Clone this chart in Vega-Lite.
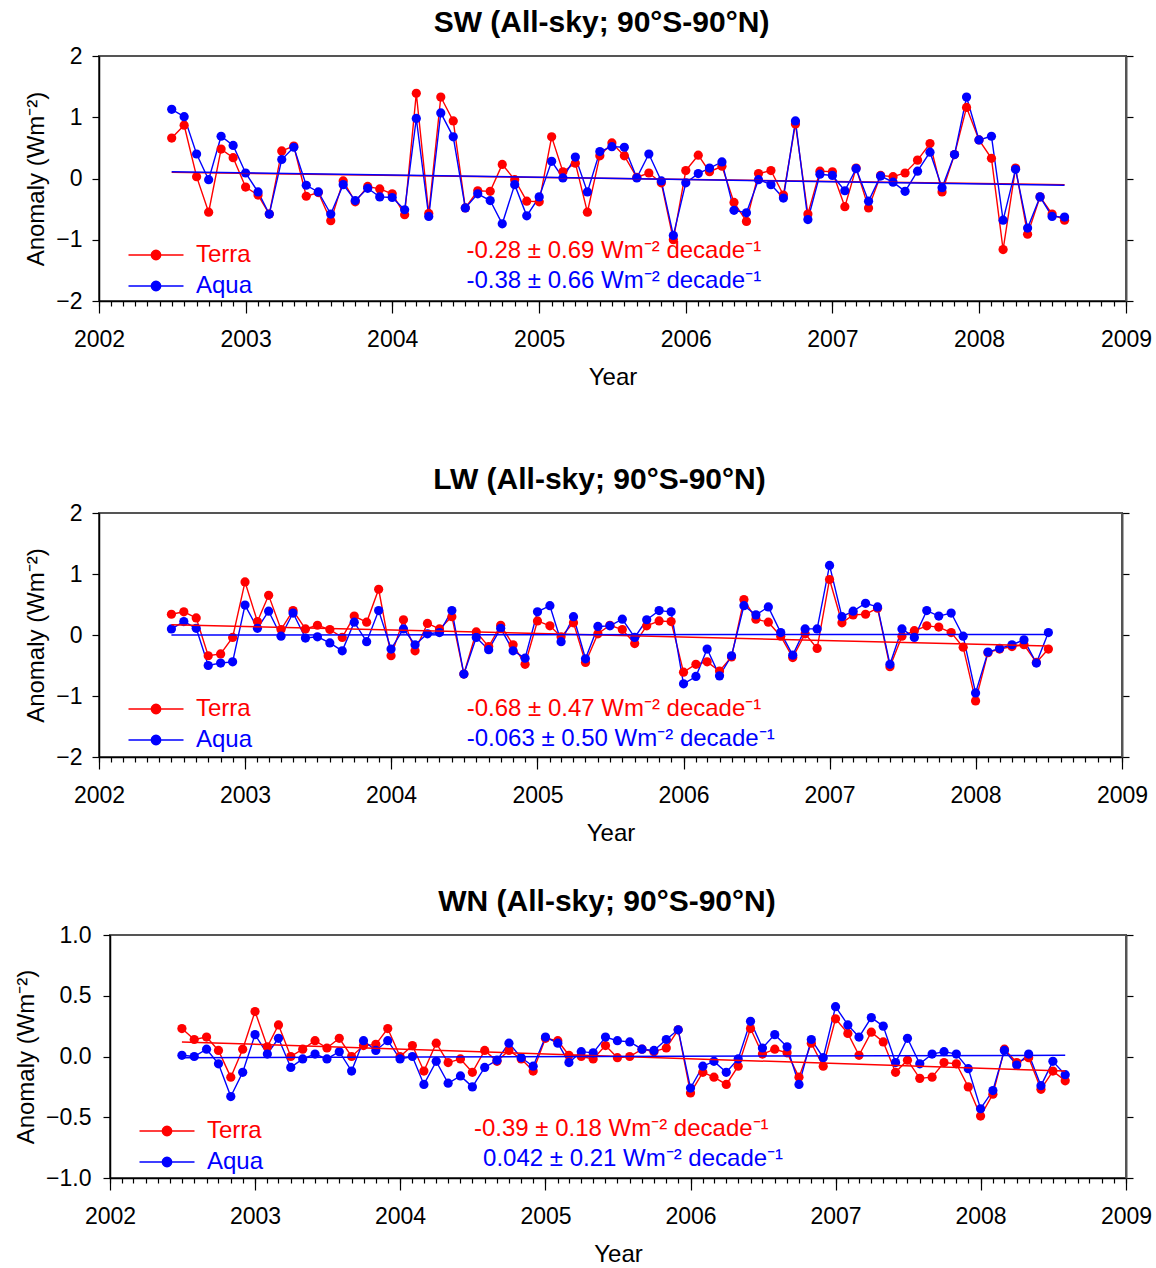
{
  "$schema": "https://vega.github.io/schema/vega-lite/v6.json",
  "padding": {"left": 13, "top": 7, "right": 0, "bottom": 0},
  "datasets": {
    "sw": [
      {"m":"2002-07-01","s":"Terra","v":0.66},{"m":"2002-08-01","s":"Terra","v":0.87},{"m":"2002-09-01","s":"Terra","v":0.03},{"m":"2002-10-01","s":"Terra","v":-0.55},{"m":"2002-11-01","s":"Terra","v":0.48},{"m":"2002-12-01","s":"Terra","v":0.34},
      {"m":"2003-01-01","s":"Terra","v":-0.14},{"m":"2003-02-01","s":"Terra","v":-0.27},{"m":"2003-03-01","s":"Terra","v":-0.58},{"m":"2003-04-01","s":"Terra","v":0.45},{"m":"2003-05-01","s":"Terra","v":0.53},{"m":"2003-06-01","s":"Terra","v":-0.29},{"m":"2003-07-01","s":"Terra","v":-0.23},{"m":"2003-08-01","s":"Terra","v":-0.69},{"m":"2003-09-01","s":"Terra","v":-0.04},{"m":"2003-10-01","s":"Terra","v":-0.38},{"m":"2003-11-01","s":"Terra","v":-0.13},{"m":"2003-12-01","s":"Terra","v":-0.17},
      {"m":"2004-01-01","s":"Terra","v":-0.25},{"m":"2004-02-01","s":"Terra","v":-0.59},{"m":"2004-03-01","s":"Terra","v":1.39},{"m":"2004-04-01","s":"Terra","v":-0.57},{"m":"2004-05-01","s":"Terra","v":1.33},{"m":"2004-06-01","s":"Terra","v":0.94},{"m":"2004-07-01","s":"Terra","v":-0.48},{"m":"2004-08-01","s":"Terra","v":-0.20},{"m":"2004-09-01","s":"Terra","v":-0.21},{"m":"2004-10-01","s":"Terra","v":0.23},{"m":"2004-11-01","s":"Terra","v":-0.02},{"m":"2004-12-01","s":"Terra","v":-0.37},
      {"m":"2005-01-01","s":"Terra","v":-0.38},{"m":"2005-02-01","s":"Terra","v":0.68},{"m":"2005-03-01","s":"Terra","v":0.11},{"m":"2005-04-01","s":"Terra","v":0.25},{"m":"2005-05-01","s":"Terra","v":-0.55},{"m":"2005-06-01","s":"Terra","v":0.37},{"m":"2005-07-01","s":"Terra","v":0.58},{"m":"2005-08-01","s":"Terra","v":0.37},{"m":"2005-09-01","s":"Terra","v":0.02},{"m":"2005-10-01","s":"Terra","v":0.09},{"m":"2005-11-01","s":"Terra","v":-0.07},{"m":"2005-12-01","s":"Terra","v":-1.00},
      {"m":"2006-01-01","s":"Terra","v":0.13},{"m":"2006-02-01","s":"Terra","v":0.38},{"m":"2006-03-01","s":"Terra","v":0.11},{"m":"2006-04-01","s":"Terra","v":0.20},{"m":"2006-05-01","s":"Terra","v":-0.39},{"m":"2006-06-01","s":"Terra","v":-0.70},{"m":"2006-07-01","s":"Terra","v":0.08},{"m":"2006-08-01","s":"Terra","v":0.13},{"m":"2006-09-01","s":"Terra","v":-0.27},{"m":"2006-10-01","s":"Terra","v":0.89},{"m":"2006-11-01","s":"Terra","v":-0.58},{"m":"2006-12-01","s":"Terra","v":0.12},
      {"m":"2007-01-01","s":"Terra","v":0.11},{"m":"2007-02-01","s":"Terra","v":-0.46},{"m":"2007-03-01","s":"Terra","v":0.17},{"m":"2007-04-01","s":"Terra","v":-0.48},{"m":"2007-05-01","s":"Terra","v":0.05},{"m":"2007-06-01","s":"Terra","v":0.03},{"m":"2007-07-01","s":"Terra","v":0.09},{"m":"2007-08-01","s":"Terra","v":0.30},{"m":"2007-09-01","s":"Terra","v":0.57},{"m":"2007-10-01","s":"Terra","v":-0.22},{"m":"2007-11-01","s":"Terra","v":0.39},{"m":"2007-12-01","s":"Terra","v":1.16},
      {"m":"2008-01-01","s":"Terra","v":0.63},{"m":"2008-02-01","s":"Terra","v":0.33},{"m":"2008-03-01","s":"Terra","v":-1.16},{"m":"2008-04-01","s":"Terra","v":0.17},{"m":"2008-05-01","s":"Terra","v":-0.91},{"m":"2008-06-01","s":"Terra","v":-0.30},{"m":"2008-07-01","s":"Terra","v":-0.58},{"m":"2008-08-01","s":"Terra","v":-0.68},
      {"m":"2002-07-01","s":"Aqua","v":1.13},{"m":"2002-08-01","s":"Aqua","v":1.01},{"m":"2002-09-01","s":"Aqua","v":0.40},{"m":"2002-10-01","s":"Aqua","v":-0.02},{"m":"2002-11-01","s":"Aqua","v":0.69},{"m":"2002-12-01","s":"Aqua","v":0.54},
      {"m":"2003-01-01","s":"Aqua","v":0.09},{"m":"2003-02-01","s":"Aqua","v":-0.22},{"m":"2003-03-01","s":"Aqua","v":-0.58},{"m":"2003-04-01","s":"Aqua","v":0.31},{"m":"2003-05-01","s":"Aqua","v":0.51},{"m":"2003-06-01","s":"Aqua","v":-0.11},{"m":"2003-07-01","s":"Aqua","v":-0.22},{"m":"2003-08-01","s":"Aqua","v":-0.58},{"m":"2003-09-01","s":"Aqua","v":-0.10},{"m":"2003-10-01","s":"Aqua","v":-0.36},{"m":"2003-11-01","s":"Aqua","v":-0.16},{"m":"2003-12-01","s":"Aqua","v":-0.30},
      {"m":"2004-01-01","s":"Aqua","v":-0.31},{"m":"2004-02-01","s":"Aqua","v":-0.51},{"m":"2004-03-01","s":"Aqua","v":0.98},{"m":"2004-04-01","s":"Aqua","v":-0.62},{"m":"2004-05-01","s":"Aqua","v":1.07},{"m":"2004-06-01","s":"Aqua","v":0.68},{"m":"2004-07-01","s":"Aqua","v":-0.48},{"m":"2004-08-01","s":"Aqua","v":-0.25},{"m":"2004-09-01","s":"Aqua","v":-0.36},{"m":"2004-10-01","s":"Aqua","v":-0.74},{"m":"2004-11-01","s":"Aqua","v":-0.10},{"m":"2004-12-01","s":"Aqua","v":-0.61},
      {"m":"2005-01-01","s":"Aqua","v":-0.30},{"m":"2005-02-01","s":"Aqua","v":0.28},{"m":"2005-03-01","s":"Aqua","v":0.01},{"m":"2005-04-01","s":"Aqua","v":0.35},{"m":"2005-05-01","s":"Aqua","v":-0.22},{"m":"2005-06-01","s":"Aqua","v":0.44},{"m":"2005-07-01","s":"Aqua","v":0.52},{"m":"2005-08-01","s":"Aqua","v":0.51},{"m":"2005-09-01","s":"Aqua","v":0.01},{"m":"2005-10-01","s":"Aqua","v":0.40},{"m":"2005-11-01","s":"Aqua","v":-0.04},{"m":"2005-12-01","s":"Aqua","v":-0.93},
      {"m":"2006-01-01","s":"Aqua","v":-0.07},{"m":"2006-02-01","s":"Aqua","v":0.08},{"m":"2006-03-01","s":"Aqua","v":0.17},{"m":"2006-04-01","s":"Aqua","v":0.27},{"m":"2006-05-01","s":"Aqua","v":-0.52},{"m":"2006-06-01","s":"Aqua","v":-0.56},{"m":"2006-07-01","s":"Aqua","v":-0.02},{"m":"2006-08-01","s":"Aqua","v":-0.10},{"m":"2006-09-01","s":"Aqua","v":-0.32},{"m":"2006-10-01","s":"Aqua","v":0.94},{"m":"2006-11-01","s":"Aqua","v":-0.67},{"m":"2006-12-01","s":"Aqua","v":0.07},
      {"m":"2007-01-01","s":"Aqua","v":0.05},{"m":"2007-02-01","s":"Aqua","v":-0.20},{"m":"2007-03-01","s":"Aqua","v":0.16},{"m":"2007-04-01","s":"Aqua","v":-0.37},{"m":"2007-05-01","s":"Aqua","v":0.04},{"m":"2007-06-01","s":"Aqua","v":-0.06},{"m":"2007-07-01","s":"Aqua","v":-0.21},{"m":"2007-08-01","s":"Aqua","v":0.12},{"m":"2007-09-01","s":"Aqua","v":0.43},{"m":"2007-10-01","s":"Aqua","v":-0.15},{"m":"2007-11-01","s":"Aqua","v":0.39},{"m":"2007-12-01","s":"Aqua","v":1.33},
      {"m":"2008-01-01","s":"Aqua","v":0.63},{"m":"2008-02-01","s":"Aqua","v":0.69},{"m":"2008-03-01","s":"Aqua","v":-0.68},{"m":"2008-04-01","s":"Aqua","v":0.15},{"m":"2008-05-01","s":"Aqua","v":-0.81},{"m":"2008-06-01","s":"Aqua","v":-0.30},{"m":"2008-07-01","s":"Aqua","v":-0.62},{"m":"2008-08-01","s":"Aqua","v":-0.63}
    ],
    "lw": [
      {"m":"2002-07-01","s":"Terra","v":0.34},{"m":"2002-08-01","s":"Terra","v":0.38},{"m":"2002-09-01","s":"Terra","v":0.28},{"m":"2002-10-01","s":"Terra","v":-0.34},{"m":"2002-11-01","s":"Terra","v":-0.31},{"m":"2002-12-01","s":"Terra","v":-0.04},
      {"m":"2003-01-01","s":"Terra","v":0.87},{"m":"2003-02-01","s":"Terra","v":0.22},{"m":"2003-03-01","s":"Terra","v":0.65},{"m":"2003-04-01","s":"Terra","v":0.09},{"m":"2003-05-01","s":"Terra","v":0.40},{"m":"2003-06-01","s":"Terra","v":0.10},{"m":"2003-07-01","s":"Terra","v":0.16},{"m":"2003-08-01","s":"Terra","v":0.09},{"m":"2003-09-01","s":"Terra","v":-0.04},{"m":"2003-10-01","s":"Terra","v":0.31},{"m":"2003-11-01","s":"Terra","v":0.21},{"m":"2003-12-01","s":"Terra","v":0.75},
      {"m":"2004-01-01","s":"Terra","v":-0.34},{"m":"2004-02-01","s":"Terra","v":0.25},{"m":"2004-03-01","s":"Terra","v":-0.26},{"m":"2004-04-01","s":"Terra","v":0.19},{"m":"2004-05-01","s":"Terra","v":0.10},{"m":"2004-06-01","s":"Terra","v":0.30},{"m":"2004-07-01","s":"Terra","v":-0.64},{"m":"2004-08-01","s":"Terra","v":0.05},{"m":"2004-09-01","s":"Terra","v":-0.19},{"m":"2004-10-01","s":"Terra","v":0.16},{"m":"2004-11-01","s":"Terra","v":-0.16},{"m":"2004-12-01","s":"Terra","v":-0.48},
      {"m":"2005-01-01","s":"Terra","v":0.23},{"m":"2005-02-01","s":"Terra","v":0.15},{"m":"2005-03-01","s":"Terra","v":-0.03},{"m":"2005-04-01","s":"Terra","v":0.20},{"m":"2005-05-01","s":"Terra","v":-0.45},{"m":"2005-06-01","s":"Terra","v":0.02},{"m":"2005-07-01","s":"Terra","v":0.16},{"m":"2005-08-01","s":"Terra","v":0.09},{"m":"2005-09-01","s":"Terra","v":-0.14},{"m":"2005-10-01","s":"Terra","v":0.15},{"m":"2005-11-01","s":"Terra","v":0.23},{"m":"2005-12-01","s":"Terra","v":0.22},
      {"m":"2006-01-01","s":"Terra","v":-0.61},{"m":"2006-02-01","s":"Terra","v":-0.48},{"m":"2006-03-01","s":"Terra","v":-0.44},{"m":"2006-04-01","s":"Terra","v":-0.59},{"m":"2006-05-01","s":"Terra","v":-0.36},{"m":"2006-06-01","s":"Terra","v":0.58},{"m":"2006-07-01","s":"Terra","v":0.26},{"m":"2006-08-01","s":"Terra","v":0.21},{"m":"2006-09-01","s":"Terra","v":-0.02},{"m":"2006-10-01","s":"Terra","v":-0.37},{"m":"2006-11-01","s":"Terra","v":0.02},{"m":"2006-12-01","s":"Terra","v":-0.22},
      {"m":"2007-01-01","s":"Terra","v":0.91},{"m":"2007-02-01","s":"Terra","v":0.20},{"m":"2007-03-01","s":"Terra","v":0.33},{"m":"2007-04-01","s":"Terra","v":0.34},{"m":"2007-05-01","s":"Terra","v":0.44},{"m":"2007-06-01","s":"Terra","v":-0.52},{"m":"2007-07-01","s":"Terra","v":-0.02},{"m":"2007-08-01","s":"Terra","v":0.07},{"m":"2007-09-01","s":"Terra","v":0.15},{"m":"2007-10-01","s":"Terra","v":0.13},{"m":"2007-11-01","s":"Terra","v":0.04},{"m":"2007-12-01","s":"Terra","v":-0.20},
      {"m":"2008-01-01","s":"Terra","v":-1.08},{"m":"2008-02-01","s":"Terra","v":-0.29},{"m":"2008-03-01","s":"Terra","v":-0.23},{"m":"2008-04-01","s":"Terra","v":-0.19},{"m":"2008-05-01","s":"Terra","v":-0.16},{"m":"2008-06-01","s":"Terra","v":-0.45},{"m":"2008-07-01","s":"Terra","v":-0.23},
      {"m":"2002-07-01","s":"Aqua","v":0.10},{"m":"2002-08-01","s":"Aqua","v":0.22},{"m":"2002-09-01","s":"Aqua","v":0.11},{"m":"2002-10-01","s":"Aqua","v":-0.50},{"m":"2002-11-01","s":"Aqua","v":-0.46},{"m":"2002-12-01","s":"Aqua","v":-0.44},
      {"m":"2003-01-01","s":"Aqua","v":0.49},{"m":"2003-02-01","s":"Aqua","v":0.11},{"m":"2003-03-01","s":"Aqua","v":0.39},{"m":"2003-04-01","s":"Aqua","v":-0.02},{"m":"2003-05-01","s":"Aqua","v":0.36},{"m":"2003-06-01","s":"Aqua","v":-0.05},{"m":"2003-07-01","s":"Aqua","v":-0.03},{"m":"2003-08-01","s":"Aqua","v":-0.13},{"m":"2003-09-01","s":"Aqua","v":-0.26},{"m":"2003-10-01","s":"Aqua","v":0.21},{"m":"2003-11-01","s":"Aqua","v":-0.11},{"m":"2003-12-01","s":"Aqua","v":0.40},
      {"m":"2004-01-01","s":"Aqua","v":-0.23},{"m":"2004-02-01","s":"Aqua","v":0.10},{"m":"2004-03-01","s":"Aqua","v":-0.16},{"m":"2004-04-01","s":"Aqua","v":0.02},{"m":"2004-05-01","s":"Aqua","v":0.04},{"m":"2004-06-01","s":"Aqua","v":0.40},{"m":"2004-07-01","s":"Aqua","v":-0.64},{"m":"2004-08-01","s":"Aqua","v":-0.04},{"m":"2004-09-01","s":"Aqua","v":-0.24},{"m":"2004-10-01","s":"Aqua","v":0.11},{"m":"2004-11-01","s":"Aqua","v":-0.26},{"m":"2004-12-01","s":"Aqua","v":-0.38},
      {"m":"2005-01-01","s":"Aqua","v":0.38},{"m":"2005-02-01","s":"Aqua","v":0.48},{"m":"2005-03-01","s":"Aqua","v":-0.11},{"m":"2005-04-01","s":"Aqua","v":0.30},{"m":"2005-05-01","s":"Aqua","v":-0.39},{"m":"2005-06-01","s":"Aqua","v":0.14},{"m":"2005-07-01","s":"Aqua","v":0.15},{"m":"2005-08-01","s":"Aqua","v":0.26},{"m":"2005-09-01","s":"Aqua","v":-0.04},{"m":"2005-10-01","s":"Aqua","v":0.25},{"m":"2005-11-01","s":"Aqua","v":0.40},{"m":"2005-12-01","s":"Aqua","v":0.38},
      {"m":"2006-01-01","s":"Aqua","v":-0.80},{"m":"2006-02-01","s":"Aqua","v":-0.68},{"m":"2006-03-01","s":"Aqua","v":-0.23},{"m":"2006-04-01","s":"Aqua","v":-0.67},{"m":"2006-05-01","s":"Aqua","v":-0.34},{"m":"2006-06-01","s":"Aqua","v":0.48},{"m":"2006-07-01","s":"Aqua","v":0.33},{"m":"2006-08-01","s":"Aqua","v":0.46},{"m":"2006-09-01","s":"Aqua","v":0.04},{"m":"2006-10-01","s":"Aqua","v":-0.33},{"m":"2006-11-01","s":"Aqua","v":0.10},{"m":"2006-12-01","s":"Aqua","v":0.10},
      {"m":"2007-01-01","s":"Aqua","v":1.14},{"m":"2007-02-01","s":"Aqua","v":0.30},{"m":"2007-03-01","s":"Aqua","v":0.39},{"m":"2007-04-01","s":"Aqua","v":0.52},{"m":"2007-05-01","s":"Aqua","v":0.46},{"m":"2007-06-01","s":"Aqua","v":-0.48},{"m":"2007-07-01","s":"Aqua","v":0.10},{"m":"2007-08-01","s":"Aqua","v":-0.04},{"m":"2007-09-01","s":"Aqua","v":0.40},{"m":"2007-10-01","s":"Aqua","v":0.31},{"m":"2007-11-01","s":"Aqua","v":0.36},{"m":"2007-12-01","s":"Aqua","v":-0.02},
      {"m":"2008-01-01","s":"Aqua","v":-0.95},{"m":"2008-02-01","s":"Aqua","v":-0.28},{"m":"2008-03-01","s":"Aqua","v":-0.22},{"m":"2008-04-01","s":"Aqua","v":-0.16},{"m":"2008-05-01","s":"Aqua","v":-0.08},{"m":"2008-06-01","s":"Aqua","v":-0.46},{"m":"2008-07-01","s":"Aqua","v":0.04}
    ],
    "wn": [
      {"m":"2002-07-01","s":"Terra","v":0.23},{"m":"2002-08-01","s":"Terra","v":0.14},{"m":"2002-09-01","s":"Terra","v":0.16},{"m":"2002-10-01","s":"Terra","v":0.05},{"m":"2002-11-01","s":"Terra","v":-0.17},{"m":"2002-12-01","s":"Terra","v":0.06},
      {"m":"2003-01-01","s":"Terra","v":0.37},{"m":"2003-02-01","s":"Terra","v":0.08},{"m":"2003-03-01","s":"Terra","v":0.26},{"m":"2003-04-01","s":"Terra","v":0.00},{"m":"2003-05-01","s":"Terra","v":0.06},{"m":"2003-06-01","s":"Terra","v":0.13},{"m":"2003-07-01","s":"Terra","v":0.07},{"m":"2003-08-01","s":"Terra","v":0.15},{"m":"2003-09-01","s":"Terra","v":0.00},{"m":"2003-10-01","s":"Terra","v":0.09},{"m":"2003-11-01","s":"Terra","v":0.10},{"m":"2003-12-01","s":"Terra","v":0.23},
      {"m":"2004-01-01","s":"Terra","v":0.00},{"m":"2004-02-01","s":"Terra","v":0.09},{"m":"2004-03-01","s":"Terra","v":-0.12},{"m":"2004-04-01","s":"Terra","v":0.11},{"m":"2004-05-01","s":"Terra","v":-0.05},{"m":"2004-06-01","s":"Terra","v":-0.02},{"m":"2004-07-01","s":"Terra","v":-0.13},{"m":"2004-08-01","s":"Terra","v":0.05},{"m":"2004-09-01","s":"Terra","v":-0.04},{"m":"2004-10-01","s":"Terra","v":0.05},{"m":"2004-11-01","s":"Terra","v":-0.02},{"m":"2004-12-01","s":"Terra","v":-0.12},
      {"m":"2005-01-01","s":"Terra","v":0.15},{"m":"2005-02-01","s":"Terra","v":0.13},{"m":"2005-03-01","s":"Terra","v":0.01},{"m":"2005-04-01","s":"Terra","v":0.00},{"m":"2005-05-01","s":"Terra","v":-0.02},{"m":"2005-06-01","s":"Terra","v":0.09},{"m":"2005-07-01","s":"Terra","v":-0.01},{"m":"2005-08-01","s":"Terra","v":0.00},{"m":"2005-09-01","s":"Terra","v":0.06},{"m":"2005-10-01","s":"Terra","v":0.04},{"m":"2005-11-01","s":"Terra","v":0.07},{"m":"2005-12-01","s":"Terra","v":0.22},
      {"m":"2006-01-01","s":"Terra","v":-0.30},{"m":"2006-02-01","s":"Terra","v":-0.13},{"m":"2006-03-01","s":"Terra","v":-0.17},{"m":"2006-04-01","s":"Terra","v":-0.23},{"m":"2006-05-01","s":"Terra","v":-0.08},{"m":"2006-06-01","s":"Terra","v":0.23},{"m":"2006-07-01","s":"Terra","v":0.02},{"m":"2006-08-01","s":"Terra","v":0.06},{"m":"2006-09-01","s":"Terra","v":0.03},{"m":"2006-10-01","s":"Terra","v":-0.17},{"m":"2006-11-01","s":"Terra","v":0.11},{"m":"2006-12-01","s":"Terra","v":-0.08},
      {"m":"2007-01-01","s":"Terra","v":0.31},{"m":"2007-02-01","s":"Terra","v":0.19},{"m":"2007-03-01","s":"Terra","v":0.01},{"m":"2007-04-01","s":"Terra","v":0.20},{"m":"2007-05-01","s":"Terra","v":0.12},{"m":"2007-06-01","s":"Terra","v":-0.13},{"m":"2007-07-01","s":"Terra","v":-0.03},{"m":"2007-08-01","s":"Terra","v":-0.18},{"m":"2007-09-01","s":"Terra","v":-0.17},{"m":"2007-10-01","s":"Terra","v":-0.05},{"m":"2007-11-01","s":"Terra","v":-0.06},{"m":"2007-12-01","s":"Terra","v":-0.25},
      {"m":"2008-01-01","s":"Terra","v":-0.49},{"m":"2008-02-01","s":"Terra","v":-0.31},{"m":"2008-03-01","s":"Terra","v":0.06},{"m":"2008-04-01","s":"Terra","v":-0.05},{"m":"2008-05-01","s":"Terra","v":-0.01},{"m":"2008-06-01","s":"Terra","v":-0.27},{"m":"2008-07-01","s":"Terra","v":-0.12},{"m":"2008-08-01","s":"Terra","v":-0.20},
      {"m":"2002-07-01","s":"Aqua","v":0.01},{"m":"2002-08-01","s":"Aqua","v":0.00},{"m":"2002-09-01","s":"Aqua","v":0.06},{"m":"2002-10-01","s":"Aqua","v":-0.06},{"m":"2002-11-01","s":"Aqua","v":-0.33},{"m":"2002-12-01","s":"Aqua","v":-0.13},
      {"m":"2003-01-01","s":"Aqua","v":0.18},{"m":"2003-02-01","s":"Aqua","v":0.02},{"m":"2003-03-01","s":"Aqua","v":0.15},{"m":"2003-04-01","s":"Aqua","v":-0.09},{"m":"2003-05-01","s":"Aqua","v":-0.02},{"m":"2003-06-01","s":"Aqua","v":0.02},{"m":"2003-07-01","s":"Aqua","v":-0.02},{"m":"2003-08-01","s":"Aqua","v":0.04},{"m":"2003-09-01","s":"Aqua","v":-0.12},{"m":"2003-10-01","s":"Aqua","v":0.13},{"m":"2003-11-01","s":"Aqua","v":0.05},{"m":"2003-12-01","s":"Aqua","v":0.13},
      {"m":"2004-01-01","s":"Aqua","v":-0.02},{"m":"2004-02-01","s":"Aqua","v":0.00},{"m":"2004-03-01","s":"Aqua","v":-0.23},{"m":"2004-04-01","s":"Aqua","v":-0.04},{"m":"2004-05-01","s":"Aqua","v":-0.22},{"m":"2004-06-01","s":"Aqua","v":-0.16},{"m":"2004-07-01","s":"Aqua","v":-0.25},{"m":"2004-08-01","s":"Aqua","v":-0.09},{"m":"2004-09-01","s":"Aqua","v":-0.03},{"m":"2004-10-01","s":"Aqua","v":0.11},{"m":"2004-11-01","s":"Aqua","v":-0.01},{"m":"2004-12-01","s":"Aqua","v":-0.08},
      {"m":"2005-01-01","s":"Aqua","v":0.16},{"m":"2005-02-01","s":"Aqua","v":0.11},{"m":"2005-03-01","s":"Aqua","v":-0.05},{"m":"2005-04-01","s":"Aqua","v":0.04},{"m":"2005-05-01","s":"Aqua","v":0.03},{"m":"2005-06-01","s":"Aqua","v":0.16},{"m":"2005-07-01","s":"Aqua","v":0.13},{"m":"2005-08-01","s":"Aqua","v":0.12},{"m":"2005-09-01","s":"Aqua","v":0.06},{"m":"2005-10-01","s":"Aqua","v":0.05},{"m":"2005-11-01","s":"Aqua","v":0.14},{"m":"2005-12-01","s":"Aqua","v":0.22},
      {"m":"2006-01-01","s":"Aqua","v":-0.26},{"m":"2006-02-01","s":"Aqua","v":-0.08},{"m":"2006-03-01","s":"Aqua","v":-0.04},{"m":"2006-04-01","s":"Aqua","v":-0.13},{"m":"2006-05-01","s":"Aqua","v":-0.02},{"m":"2006-06-01","s":"Aqua","v":0.29},{"m":"2006-07-01","s":"Aqua","v":0.07},{"m":"2006-08-01","s":"Aqua","v":0.18},{"m":"2006-09-01","s":"Aqua","v":0.08},{"m":"2006-10-01","s":"Aqua","v":-0.23},{"m":"2006-11-01","s":"Aqua","v":0.14},{"m":"2006-12-01","s":"Aqua","v":-0.01},
      {"m":"2007-01-01","s":"Aqua","v":0.41},{"m":"2007-02-01","s":"Aqua","v":0.26},{"m":"2007-03-01","s":"Aqua","v":0.16},{"m":"2007-04-01","s":"Aqua","v":0.32},{"m":"2007-05-01","s":"Aqua","v":0.25},{"m":"2007-06-01","s":"Aqua","v":-0.05},{"m":"2007-07-01","s":"Aqua","v":0.15},{"m":"2007-08-01","s":"Aqua","v":-0.06},{"m":"2007-09-01","s":"Aqua","v":0.02},{"m":"2007-10-01","s":"Aqua","v":0.04},{"m":"2007-11-01","s":"Aqua","v":0.02},{"m":"2007-12-01","s":"Aqua","v":-0.10},
      {"m":"2008-01-01","s":"Aqua","v":-0.43},{"m":"2008-02-01","s":"Aqua","v":-0.28},{"m":"2008-03-01","s":"Aqua","v":0.05},{"m":"2008-04-01","s":"Aqua","v":-0.07},{"m":"2008-05-01","s":"Aqua","v":0.02},{"m":"2008-06-01","s":"Aqua","v":-0.24},{"m":"2008-07-01","s":"Aqua","v":-0.04},{"m":"2008-08-01","s":"Aqua","v":-0.15}
    ],
    "swTrend": [
      {"m":"2002-07-01","s":"Terra","v":0.10},{"m":"2008-08-01","s":"Terra","v":-0.10},
      {"m":"2002-07-01","s":"Aqua","v":0.11},{"m":"2008-08-01","s":"Aqua","v":-0.11}
    ],
    "lwTrend": [
      {"m":"2002-07-01","s":"Terra","v":0.17},{"m":"2008-07-01","s":"Terra","v":-0.18},
      {"m":"2002-07-01","s":"Aqua","v":0.00},{"m":"2008-07-01","s":"Aqua","v":0.01}
    ],
    "wnTrend": [
      {"m":"2002-07-01","s":"Terra","v":0.12},{"m":"2008-08-01","s":"Terra","v":-0.12},
      {"m":"2002-07-01","s":"Aqua","v":-0.01},{"m":"2008-08-01","s":"Aqua","v":0.01}
    ]
  },
  "spacing": 74,
  "resolve": {"scale": {"color": "independent"}},
  "vconcat": [
    {
      "title": {"text": "SW (All-sky; 90°S-90°N)", "dx": -11},
      "width": 1027,
      "height": 245,
      "resolve": {"axis": {"x": "independent", "y": "independent"}},
      "layer": [
        {
          "data": {"name": "sw"},
          "mark": {"type": "line", "strokeWidth": 1.4, "point": {"filled": true, "size": 85, "opacity": 1}},
          "encoding": {
            "x": {"field": "m", "type": "temporal", "scale": {"type": "utc", "nice": false, "domain": [{"year": 2002, "month": 1, "date": 1, "utc": true}, {"year": 2009, "month": 1, "date": 1, "utc": true}]},
                  "axis": {"title": "Year", "format": "%Y", "tickCount": {"interval": "year", "step": 1}, "tickSize": 12, "labelPadding": 15, "titlePadding": 14, "labelFlush": false, "labelOverlap": false}},
            "y": {"field": "v", "type": "quantitative", "scale": {"domain": [-2, 2], "nice": false},
                  "axis": {"title": "Anomaly (Wm⁻²)", "values": [-2, -1, 0, 1, 2], "tickSize": 7, "labelPadding": 10, "minExtent": 44, "maxExtent": 44, "titlePadding": 7}},
            "color": {"field": "s", "type": "nominal", "scale": {"domain": ["Terra", "Aqua"], "range": ["#ff0000", "#0000ff"]},
                      "legend": {"title": null, "orient": "none", "legendX": 29, "legendY": 187, "padding": 0, "rowPadding": 7,
                                 "symbolType": "M-5.5,0H5.5M0.95,0A0.95,0.95,0,1,1,-0.95,0A0.95,0.95,0,1,1,0.95,0Z", "symbolSize": 100, "symbolStrokeWidth": 1.3, "symbolOffset": 16, "labelOffset": 28, "labelFontSize": 24, "labelFont": "Liberation Sans",
                                 "encode": {"symbols": {"update": {"fill": {"signal": "datum.value === 'Terra' ? '#ff0000' : '#0000ff'"}, "stroke": {"signal": "datum.value === 'Terra' ? '#ff0000' : '#0000ff'"}, "opacity": {"value": 1}}},
                                            "labels": {"update": {"fill": {"signal": "datum.value === 'Terra' ? '#ff0000' : '#0000ff'"}}}}}}
          }
        },
        {
          "data": {"name": "swTrend"},
          "mark": {"type": "line", "strokeWidth": 1.5},
          "encoding": {
            "x": {"field": "m", "type": "temporal", "axis": {"orient": "bottom", "title": null, "labels": false, "domain": false, "tickSize": 5, "tickCount": {"interval": "month", "step": 1}}},
            "y": {"field": "v", "type": "quantitative", "axis": {"orient": "right", "title": null, "labels": false, "values": [-2, -1, 0, 1, 2], "tickSize": 7, "domainColor": "#555", "domainWidth": 2}},
            "color": {"field": "s", "type": "nominal", "legend": null}
          }
        },
        {
          "data": {"values": [{}]},
          "mark": {"type": "text", "align": "left", "baseline": "middle", "fontSize": 24, "font": "Liberation Sans", "color": "#ff0000"},
          "encoding": {
            "x": {"datum": {"year": 2004, "month": 7, "date": 4, "utc": true}, "type": "temporal", "axis": null},
            "y": {"datum": -1.18, "type": "quantitative", "axis": null},
            "text": {"value": "-0.28 ± 0.69 Wm⁻² decade⁻¹"}
          }
        },
        {
          "data": {"values": [{}]},
          "mark": {"type": "text", "align": "left", "baseline": "middle", "fontSize": 24, "font": "Liberation Sans", "color": "#0000ff"},
          "encoding": {
            "x": {"datum": {"year": 2004, "month": 7, "date": 4, "utc": true}, "type": "temporal", "axis": null},
            "y": {"datum": -1.67, "type": "quantitative", "axis": null},
            "text": {"value": "-0.38 ± 0.66 Wm⁻² decade⁻¹"}
          }
        }
      ]
    },
    {
      "spacing": 40,
      "resolve": {"scale": {"color": "independent"}},
      "vconcat": [
        {
          "title": {"text": "LW (All-sky; 90°S-90°N)", "dx": -11},
          "width": 1023,
          "height": 244,
          "resolve": {"axis": {"x": "independent", "y": "independent"}},
          "layer": [
            {
              "data": {"name": "lw"},
              "mark": {"type": "line", "strokeWidth": 1.4, "point": {"filled": true, "size": 85, "opacity": 1}},
              "encoding": {
                "x": {"field": "m", "type": "temporal", "scale": {"type": "utc", "nice": false, "domain": [{"year": 2002, "month": 1, "date": 1, "utc": true}, {"year": 2009, "month": 1, "date": 1, "utc": true}]},
                      "axis": {"title": "Year", "format": "%Y", "tickCount": {"interval": "year", "step": 1}, "tickSize": 12, "labelPadding": 15, "titlePadding": 14, "labelFlush": false, "labelOverlap": false}},
                "y": {"field": "v", "type": "quantitative", "scale": {"domain": [-2, 2], "nice": false},
                      "axis": {"title": "Anomaly (Wm⁻²)", "values": [-2, -1, 0, 1, 2], "tickSize": 7, "labelPadding": 10, "minExtent": 44, "maxExtent": 44, "titlePadding": 7}},
                "color": {"field": "s", "type": "nominal", "scale": {"domain": ["Terra", "Aqua"], "range": ["#ff0000", "#0000ff"]},
                          "legend": {"title": null, "orient": "none", "legendX": 29, "legendY": 184, "padding": 0, "rowPadding": 7,
                                     "symbolType": "M-5.5,0H5.5M0.95,0A0.95,0.95,0,1,1,-0.95,0A0.95,0.95,0,1,1,0.95,0Z", "symbolSize": 100, "symbolStrokeWidth": 1.3, "symbolOffset": 16, "labelOffset": 28, "labelFontSize": 24, "labelFont": "Liberation Sans",
                                     "encode": {"symbols": {"update": {"fill": {"signal": "datum.value === 'Terra' ? '#ff0000' : '#0000ff'"}, "stroke": {"signal": "datum.value === 'Terra' ? '#ff0000' : '#0000ff'"}, "opacity": {"value": 1}}},
                                                "labels": {"update": {"fill": {"signal": "datum.value === 'Terra' ? '#ff0000' : '#0000ff'"}}}}}}
              }
            },
            {
              "data": {"name": "lwTrend"},
              "mark": {"type": "line", "strokeWidth": 1.5},
              "encoding": {
                "x": {"field": "m", "type": "temporal", "axis": {"orient": "bottom", "title": null, "labels": false, "domain": false, "tickSize": 5, "tickCount": {"interval": "month", "step": 1}}},
                "y": {"field": "v", "type": "quantitative", "axis": {"orient": "right", "title": null, "labels": false, "values": [-2, -1, 0, 1, 2], "tickSize": 7, "domainColor": "#555", "domainWidth": 2}},
                "color": {"field": "s", "type": "nominal", "legend": null}
              }
            },
            {
              "data": {"values": [{}]},
              "mark": {"type": "text", "align": "left", "baseline": "middle", "fontSize": 24, "font": "Liberation Sans", "color": "#ff0000"},
              "encoding": {
                "x": {"datum": {"year": 2004, "month": 7, "date": 8, "utc": true}, "type": "temporal", "axis": null},
                "y": {"datum": -1.22, "type": "quantitative", "axis": null},
                "text": {"value": "-0.68   ± 0.47 Wm⁻² decade⁻¹"}
              }
            },
            {
              "data": {"values": [{}]},
              "mark": {"type": "text", "align": "left", "baseline": "middle", "fontSize": 24, "font": "Liberation Sans", "color": "#0000ff"},
              "encoding": {
                "x": {"datum": {"year": 2004, "month": 7, "date": 8, "utc": true}, "type": "temporal", "axis": null},
                "y": {"datum": -1.70, "type": "quantitative", "axis": null},
                "text": {"value": "-0.063 ± 0.50 Wm⁻² decade⁻¹"}
              }
            }
          ]
        },
        {
          "bounds": "flush",
          "spacing": 10,
          "hconcat": [
            {
              "data": {"values": []},
              "mark": {"type": "point", "opacity": 0},
              "width": 1,
              "height": 1,
              "view": {"stroke": null}
            },
            {
              "title": {"text": "WN (All-sky; 90°S-90°N)", "dx": -11},
              "width": 1016,
              "height": 243,
              "resolve": {"axis": {"x": "independent", "y": "independent"}},
              "layer": [
                {
                  "data": {"name": "wn"},
                  "mark": {"type": "line", "strokeWidth": 1.4, "point": {"filled": true, "size": 85, "opacity": 1}},
                  "encoding": {
                    "x": {"field": "m", "type": "temporal", "scale": {"type": "utc", "nice": false, "domain": [{"year": 2002, "month": 1, "date": 1, "utc": true}, {"year": 2009, "month": 1, "date": 1, "utc": true}]},
                          "axis": {"title": "Year", "format": "%Y", "tickCount": {"interval": "year", "step": 1}, "tickSize": 12, "labelPadding": 15, "titlePadding": 14, "labelFlush": false, "labelOverlap": false}},
                    "y": {"field": "v", "type": "quantitative", "scale": {"domain": [-1, 1], "nice": false},
                          "axis": {"title": "Anomaly (Wm⁻²)", "values": [-1, -0.5, 0, 0.5, 1], "format": ".1f", "tickSize": 7, "labelPadding": 12, "minExtent": 70, "maxExtent": 70, "titlePadding": 2}},
                    "color": {"field": "s", "type": "nominal", "scale": {"domain": ["Terra", "Aqua"], "range": ["#ff0000", "#0000ff"]},
                              "legend": {"title": null, "orient": "none", "legendX": 40, "legendY": 184, "padding": 0, "rowPadding": 7,
                                         "symbolType": "M-5.5,0H5.5M0.95,0A0.95,0.95,0,1,1,-0.95,0A0.95,0.95,0,1,1,0.95,0Z", "symbolSize": 100, "symbolStrokeWidth": 1.3, "symbolOffset": 16, "labelOffset": 28, "labelFontSize": 24, "labelFont": "Liberation Sans",
                                         "encode": {"symbols": {"update": {"fill": {"signal": "datum.value === 'Terra' ? '#ff0000' : '#0000ff'"}, "stroke": {"signal": "datum.value === 'Terra' ? '#ff0000' : '#0000ff'"}, "opacity": {"value": 1}}},
                                                    "labels": {"update": {"fill": {"signal": "datum.value === 'Terra' ? '#ff0000' : '#0000ff'"}}}}}}
                  }
                },
                {
                  "data": {"name": "wnTrend"},
                  "mark": {"type": "line", "strokeWidth": 1.5},
                  "encoding": {
                    "x": {"field": "m", "type": "temporal", "axis": {"orient": "bottom", "title": null, "labels": false, "domain": false, "tickSize": 5, "tickCount": {"interval": "month", "step": 1}}},
                    "y": {"field": "v", "type": "quantitative", "axis": {"orient": "right", "title": null, "labels": false, "values": [-1, -0.5, 0, 0.5, 1], "tickSize": 7, "domainColor": "#555", "domainWidth": 2}},
                    "color": {"field": "s", "type": "nominal", "legend": null}
                  }
                },
                {
                  "data": {"values": [{}]},
                  "mark": {"type": "text", "align": "left", "baseline": "middle", "fontSize": 24, "font": "Liberation Sans", "color": "#ff0000"},
                  "encoding": {
                    "x": {"datum": {"year": 2004, "month": 7, "date": 5, "utc": true}, "type": "temporal", "axis": null},
                    "y": {"datum": -0.60, "type": "quantitative", "axis": null},
                    "text": {"value": "-0.39   ± 0.18 Wm⁻² decade⁻¹"}
                  }
                },
                {
                  "data": {"values": [{}]},
                  "mark": {"type": "text", "align": "left", "baseline": "middle", "fontSize": 24, "font": "Liberation Sans", "color": "#0000ff"},
                  "encoding": {
                    "x": {"datum": {"year": 2004, "month": 7, "date": 28, "utc": true}, "type": "temporal", "axis": null},
                    "y": {"datum": -0.84, "type": "quantitative", "axis": null},
                    "text": {"value": "0.042 ± 0.21 Wm⁻² decade⁻¹"}
                  }
                }
              ]
            }
          ]
        }
      ]
    }
  ],
  "config": {
    "font": "Liberation Sans",
    "background": "#ffffff",
    "view": {"stroke": "#555555", "strokeWidth": 2},
    "axis": {"grid": false, "labelFont": "Liberation Sans", "labelFontSize": 23, "labelColor": "#000000", "titleFont": "Liberation Sans", "titleFontSize": 24, "titleFontWeight": "normal", "titleColor": "#000000", "domainColor": "#000000", "domainWidth": 1.5, "tickColor": "#000000", "tickWidth": 1.2},
    "title": {"font": "Liberation Sans", "fontSize": 30, "fontWeight": "bold", "color": "#000000", "anchor": "middle", "offset": 7}
  }
}
